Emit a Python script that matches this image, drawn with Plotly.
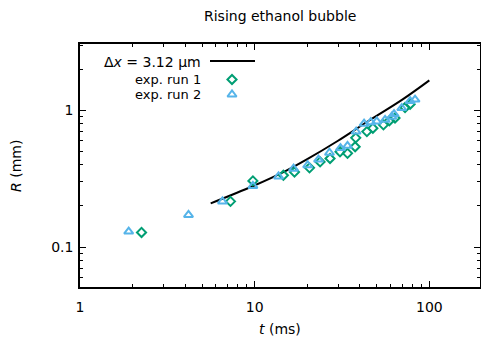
import plotly.graph_objects as go

# ---- data ----
sim_t = [5.6, 9.8, 15, 20, 30, 45, 70, 100]
sim_R = [0.209, 0.28, 0.36, 0.44, 0.60, 0.84, 1.2, 1.66]

run1_t = [2.25, 7.27, 9.77, 14.6, 16.9, 20.6, 23.7, 27.0, 30.8, 34.0, 37.6, 37.9,
          43.9, 47.5, 54.6, 59.0, 63.6, 72.6, 77.6]
run1_R = [0.128, 0.216, 0.305, 0.335, 0.354, 0.38, 0.42, 0.445, 0.498, 0.485, 0.542, 0.63,
          0.70, 0.741, 0.784, 0.84, 0.88, 1.05, 1.11]

run2_t = [1.9, 4.18, 6.54, 9.77, 13.7, 16.7, 20.1, 23.2, 26.8, 31.0, 34.0, 38.1,
          42.3, 46.2, 50.0, 55.8, 61.0, 62.8, 69.5, 77.6, 82.8]
run2_R = [0.13, 0.172, 0.216, 0.28, 0.329, 0.375, 0.397, 0.437, 0.49, 0.53, 0.551, 0.70,
          0.80, 0.82, 0.83, 0.853, 0.90, 0.94, 1.04, 1.17, 1.2]

x_major = [1, 10, 100]
x_labels = ["1", "10", "100"]
y_major = [0.1, 1]
y_labels = ["0.1", "1"]

labels = ["Δ<i>x</i> = 3.12 μm", "exp. run 1", "exp. run 2"]

GREEN = "#009E73"
BLUE = "#56B4E9"
FONT = "DejaVu Sans"

x_minor = [m * d for d in (1, 10, 100) for m in range(2, 10) if m * d <= 200]
y_minor = [m * d for d in (0.01, 0.1, 1) for m in range(2, 10) if 0.05 <= m * d <= 3]

# layout geometry (pixels)
W, H = 481, 338
L, R, T, B = 80, 1, 44, 51
PW, PH = W - L - R, H - T - B


def px(x):
    return (x - L) / PW


def py(y):
    return (H - B - y) / PH


fig = go.Figure()
fig.add_trace(go.Scatter(x=sim_t, y=sim_R, mode="lines", line=dict(color="black", width=2, shape="spline"),
                         showlegend=False))
fig.add_trace(go.Scatter(x=run1_t, y=run1_R, mode="markers",
                         marker=dict(symbol="diamond-open", size=7, color=GREEN, line=dict(width=2)),
                         showlegend=False))
fig.add_trace(go.Scatter(x=run2_t, y=run2_R, mode="markers",
                         marker=dict(symbol="triangle-up-open", size=8, color=BLUE, line=dict(width=2)),
                         showlegend=False))

# manual legend (symbols after text, matplotlib style)
fig.add_trace(go.Scatter(x=[px(232)], y=[py(79.5)], xaxis="x2", yaxis="y2", mode="markers",
                         marker=dict(symbol="diamond-open", size=7, color=GREEN, line=dict(width=2)),
                         showlegend=False, hoverinfo="skip"))
fig.add_trace(go.Scatter(x=[px(232)], y=[py(94.5)], xaxis="x2", yaxis="y2", mode="markers",
                         marker=dict(symbol="triangle-up-open", size=8, color=BLUE, line=dict(width=2)),
                         showlegend=False, hoverinfo="skip"))
fig.add_shape(type="line", xref="paper", yref="paper", x0=px(210), x1=px(255), y0=py(61), y1=py(61),
              line=dict(color="black", width=2))
for txt, yy, fs in zip(labels, [62, 79.5, 94.5], [14, 13, 13]):
    fig.add_annotation(text=txt, xref="paper", yref="paper", x=px(202), y=py(yy), xanchor="right",
                       yanchor="middle", showarrow=False, borderpad=0,
                       font=dict(size=fs, color="black", family=FONT))

# axis titles
fig.add_annotation(text="<i>t</i> (ms)", xref="paper", yref="paper", x=px(280), y=py(329), xanchor="center",
                   yanchor="middle", showarrow=False, font=dict(size=14, color="black", family=FONT))
fig.add_annotation(text="<i>R</i> (mm)", xref="paper", yref="paper", x=px(16), y=py(166), xanchor="center",
                   yanchor="middle", textangle=-90, showarrow=False,
                   font=dict(size=14, color="black", family=FONT))
# title
fig.add_annotation(text="Rising ethanol bubble", xref="paper", yref="paper", x=px(280), y=py(16),
                   xanchor="center", yanchor="middle", showarrow=False,
                   font=dict(size=14, color="black", family=FONT))

axis_common = dict(showline=True, linecolor="black", linewidth=1.5, mirror="ticks", ticks="inside",
                   ticklen=6, tickwidth=1.2, tickcolor="black", showgrid=False, zeroline=False,
                   automargin=False, tickfont=dict(size=14, color="black", family=FONT))

fig.update_layout(
    width=W, height=H,
    margin=dict(l=L, r=R, t=T, b=B),
    plot_bgcolor="white", paper_bgcolor="white",
    font=dict(family=FONT, color="black"),
    xaxis=dict(type="log", range=[0, 2.29], tickvals=x_major, ticktext=x_labels, ticklabelstandoff=6,
               minor=dict(tickvals=x_minor, ticks="inside", ticklen=3, tickcolor="black", showgrid=False),
               **axis_common),
    yaxis=dict(type="log", range=[-1.292, 0.486], tickvals=y_major, ticktext=y_labels, ticklabelstandoff=2,
               minor=dict(tickvals=y_minor, ticks="inside", ticklen=3, tickcolor="black", showgrid=False),
               **axis_common),
    xaxis2=dict(overlaying="x", range=[0, 1], visible=False),
    yaxis2=dict(overlaying="y", range=[0, 1], visible=False),
)

fig.write_html("out.html", config={"displayModeBar": False},
               post_script="document.body.style.margin='0px';document.body.style.padding='0px';")
